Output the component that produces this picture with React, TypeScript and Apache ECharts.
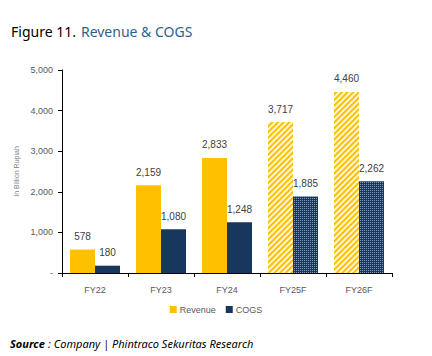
import React, { useEffect, useRef } from "react";
import * as echarts from "echarts";

const categories = ["FY22", "FY23", "FY24", "FY25F", "FY26F"];
const revenue = [578, 2159, 2833, 3717, 4460];
const cogs = [180, 1080, 1248, 1885, 2262];
const forecast = [false, false, false, true, true];
const yTicks = [0, 1000, 2000, 3000, 4000, 5000];

const NARROW = "'Liberation Sans Narrow', 'Liberation Sans', Arial, sans-serif";

const fmt = (v: number) => (v === 0 ? "-" : v.toLocaleString("en-US"));

export default function App() {
  const ref = useRef<HTMLDivElement>(null);
  useEffect(() => {
    if (!ref.current) return;
    const chart = echarts.init(ref.current, undefined, { renderer: "svg" });
    const revDecal = {
      symbol: "rect",
      symbolSize: 1,
      dashArrayX: [1, 0],
      dashArrayY: [2, 2],
      rotation: -Math.PI / 4,
      color: "rgba(255,255,255,0.85)",
    };
    const cogsDecal = {
      symbol: "rect",
      symbolSize: 1,
      dashArrayX: [1, 1],
      dashArrayY: [1, 1],
      rotation: 0,
      color: "rgba(255,255,255,0.5)",
    };
    const mk = (vals: number[], color: string, decal: any) =>
      vals.map((v, i) => ({
        value: v,
        itemStyle: forecast[i] ? { color, decal } : { color },
      }));
    chart.setOption({
      animation: false,
      backgroundColor: "#ffffff",
      title: {
        text: "{a|Figure 11.} {b|Revenue & COGS}",
        left: 6,
        top: 17,
        textStyle: {
          fontWeight: "normal",
          rich: {
            a: { fontFamily: "'Noto Sans', sans-serif", fontSize: 14, fontWeight: "normal", color: "#000000" },
            b: { fontFamily: "'Noto Sans', sans-serif", fontSize: 14, fontWeight: "normal", color: "#2e5f8f" },
          },
        },
      },
      graphic: [
        {
          type: "text",
          left: 10,
          top: 337,
          style: {
            text: "{a|Source} {b|: Company | Phintraco Sekuritas Research}",
            rich: {
              a: { fontFamily: "'Noto Sans', sans-serif", fontSize: 11, fontWeight: "bold", fontStyle: "italic", fill: "#000" },
              b: { fontFamily: "'Noto Sans', sans-serif", fontSize: 11, fontStyle: "italic", fill: "#000" },
            },
          },
        },
      ],
      legend: {
        bottom: 37,
        left: "center",
        itemWidth: 7,
        itemHeight: 7,
        itemGap: 10,
        icon: "rect",
        textStyle: { fontFamily: NARROW, fontSize: 9, color: "#595959", padding: [0, 0, 0, -2] },
        data: ["Revenue", "COGS"],
      },
      grid: { left: 62, right: 40, top: 70, bottom: 83, containLabel: false },
      xAxis: {
        type: "category",
        data: categories,
        axisLine: { lineStyle: { color: "#000", width: 1 } },
        axisTick: { show: true, length: 4, lineStyle: { color: "#000" } },
        axisLabel: { fontFamily: NARROW, fontSize: 9, color: "#595959", margin: 12 },
      },
      yAxis: {
        type: "value",
        min: 0,
        max: 5000,
        interval: 1000,
        name: "In Billion Rupiah",
        nameLocation: "middle",
        nameGap: 42,
        nameTextStyle: { fontFamily: NARROW, fontSize: 7, color: "#7f7f7f" },
        axisLine: { show: true, lineStyle: { color: "#000", width: 1 } },
        axisTick: { show: true, length: 4, lineStyle: { color: "#000" } },
        splitLine: { show: false },
        axisLabel: {
          fontFamily: NARROW,
          fontSize: 9,
          color: "#595959",
          margin: 9,
          formatter: (v: number) => (yTicks.includes(v) ? fmt(v) : ""),
        },
      },
      series: [
        {
          name: "Revenue",
          type: "bar",
          barWidth: 25,
          barGap: "0%",
          itemStyle: { color: "#FFC000" },
          label: {
            show: true,
            position: "top",
            distance: 8,
            fontFamily: NARROW,
            fontSize: 10,
            color: "#404040",
            formatter: (p: any) => fmt(p.value),
          },
          data: mk(revenue, "#FFC000", revDecal),
        },
        {
          name: "COGS",
          type: "bar",
          barWidth: 25,
          barGap: "0%",
          itemStyle: { color: "#17375E" },
          label: {
            show: true,
            position: "top",
            distance: 8,
            fontFamily: NARROW,
            fontSize: 10,
            color: "#404040",
            formatter: (p: any) => fmt(p.value),
          },
          data: mk(cogs, "#17375E", cogsDecal),
        },
      ],
    });
    return () => chart.dispose();
  }, []);
  return (
    <div
      ref={ref}
      style={{ position: "fixed", left: 0, top: 0, width: 432, height: 356, background: "#fff" }}
    />
  );
}
